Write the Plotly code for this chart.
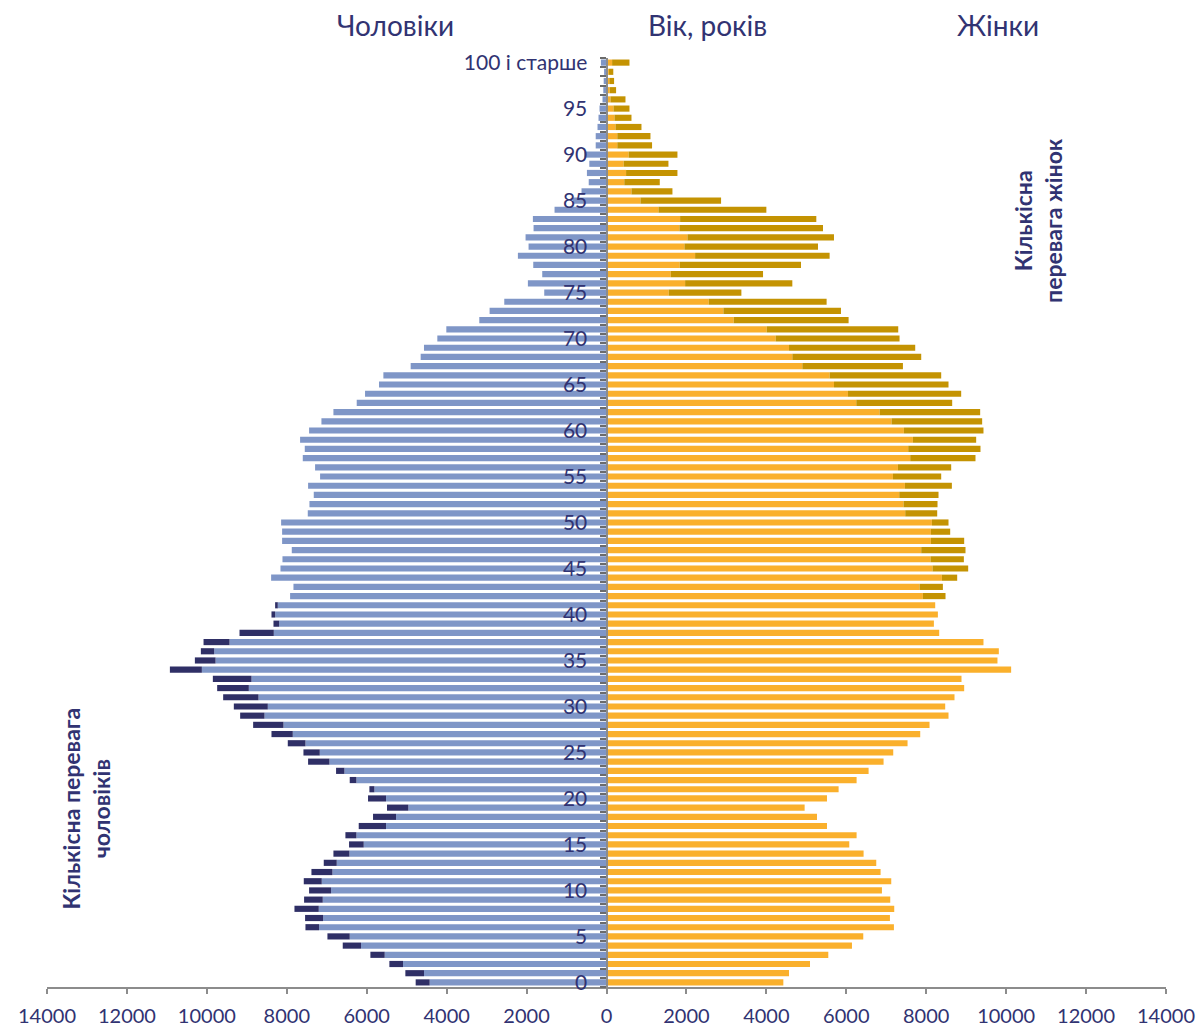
import plotly.graph_objects as go

ages = list(range(0, 101))

# Male totals by age (0..100)
male = [4775, 5033, 5433, 5908, 6600, 6983, 7533, 7542, 7808, 7567,
        7442, 7575, 7383, 7075, 6833, 6442, 6533, 6200, 5842, 5492,
        5967, 5933, 6425, 6767, 7467, 7583, 7975, 8383, 8842, 9167,
        9325, 9592, 9742, 9850, 10925, 10300, 10150, 10083, 9183, 8333,
        8383, 8292, 7917, 7833, 8392, 8158, 8108, 7875, 8117, 8117,
        8142, 7475, 7433, 7325, 7467, 7167, 7292, 7600, 7550, 7667,
        7442, 7133, 6833, 6250, 6042, 5692, 5583, 4900, 4650, 4567,
        4233, 4008, 3183, 2925, 2558, 1558, 1967, 1608, 1833, 2217,
        1950, 2025, 1825, 1842, 1300, 850, 625, 445, 490, 430,
        555, 270, 270, 225, 200, 175, 100, 80, 70, 60,
        140]

# Female totals by age (0..100)
female = [4425, 4567, 5092, 5550, 6142, 6425, 7192, 7092, 7200, 7100,
          6892, 7125, 6858, 6750, 6433, 6075, 6258, 5517, 5267, 4958,
          5517, 5808, 6258, 6558, 6933, 7175, 7533, 7850, 8083, 8558,
          8475, 8708, 8950, 8883, 10125, 9783, 9817, 9433, 8325, 8192,
          8292, 8225, 8483, 8417, 8775, 9050, 8942, 8983, 8950, 8600,
          8558, 8275, 8283, 8308, 8642, 8375, 8625, 9233, 9358, 9250,
          9433, 9400, 9350, 8650, 8875, 8558, 8375, 7417, 7875, 7725,
          7333, 7300, 6058, 5867, 5508, 3375, 4650, 3917, 4867, 5583,
          5292, 5692, 5417, 5250, 4000, 2867, 1650, 1333, 1775, 1550,
          1775, 1140, 1100, 875, 625, 575, 475, 240, 190, 170,
          575]

age_tick_vals = [0, 5, 10, 15, 20, 25, 30, 35, 40, 45, 50, 55, 60, 65, 70, 75, 80, 85, 90, 95, 100]
age_tick_text = ["0", "5", "10", "15", "20", "25", "30", "35", "40", "45", "50", "55",
                 "60", "65", "70", "75", "80", "85", "90", "95", "100 і старше"]
x_tick_vals = [-14000, -12000, -10000, -8000, -6000, -4000, -2000, 0,
               2000, 4000, 6000, 8000, 10000, 12000, 14000]
x_tick_text = ["14000", "12000", "10000", "8000", "6000", "4000", "2000", "0",
               "2000", "4000", "6000", "8000", "10000", "12000", "14000"]

common = [min(m, f) for m, f in zip(male, female)]
male_excess = [max(m - f, 0) for m, f in zip(male, female)]
female_excess = [max(f - m, 0) for m, f in zip(male, female)]

C_MALE = "#7F96C7"
C_MALE_EX = "#2F2F66"
C_FEM = "#FAB02C"
C_FEM_EX = "#C49302"
C_TEXT = "#313372"
FONT = "Lato"

fig = go.Figure()
fig.add_trace(go.Bar(y=ages, x=[-c for c in common], orientation="h",
                     marker=dict(color=C_MALE, line=dict(width=0)), name="Чоловіки"))
fig.add_trace(go.Bar(y=ages, x=[-e for e in male_excess], orientation="h",
                     marker=dict(color=C_MALE_EX, line=dict(width=0)), name="Перевага чоловіків"))
fig.add_trace(go.Bar(y=ages, x=common, orientation="h",
                     marker=dict(color=C_FEM, line=dict(width=0)), name="Жінки"))
fig.add_trace(go.Bar(y=ages, x=female_excess, orientation="h",
                     marker=dict(color=C_FEM_EX, line=dict(width=0)), name="Перевага жінок"))

fig.update_layout(
    width=1202, height=1028,
    margin=dict(l=47, r=36, t=58, b=41),
    plot_bgcolor="white", paper_bgcolor="white",
    barmode="relative", bargap=0.33, showlegend=False,
    font=dict(family=FONT, color=C_TEXT),
)

fig.update_xaxes(
    range=[-14000, 14000], tickvals=x_tick_vals, ticktext=x_tick_text,
    showgrid=False, zeroline=False, showline=True, linecolor="#8C8C8C", linewidth=1.5,
    ticks="outside", ticklen=5, tickcolor="#8C8C8C", tickwidth=1.5,
    ticklabelstandoff=5, automargin=False,
    tickfont=dict(family=FONT, size=20, color=C_TEXT),
)

fig.update_yaxes(
    range=[-0.5, 100.5], tickvals=age_tick_vals, ticktext=age_tick_text,
    anchor="free", position=0.5, side="left", automargin=False,
    showgrid=False, zeroline=False, showline=True, linecolor="#8C8C8C", linewidth=2,
    ticks="", ticklabelstandoff=14,
    tickfont=dict(family=FONT, size=21, color=C_TEXT),
    minor=dict(tickvals=[a + 0.5 for a in range(-1, 101)], ticks="outside",
               ticklen=6, tickcolor="#6B6B6B", tickwidth=1.5, showgrid=False),
)

anns = [
    dict(text="Чоловіки", x=-5275, y=1.035, size=28),
    dict(text="Вік, років", x=2525, y=1.035, size=28),
    dict(text="Жінки", x=9800, y=1.035, size=28),
]
for a in anns:
    fig.add_annotation(text=a["text"], x=a["x"], xref="x", y=a["y"], yref="paper",
                       showarrow=False, xanchor="center", yanchor="middle",
                       font=dict(family=FONT, size=a["size"], color=C_TEXT))

fig.add_annotation(text="<b>Кількісна<br>перевага жінок</b>", x=10800, xref="x",
                   y=82.8, yref="y", textangle=-90, showarrow=False, align="center",
                   font=dict(family=FONT, size=23, color=C_TEXT))
fig.add_annotation(text="<b>Кількісна перевага<br>чоловіків</b>", x=-13025, xref="x",
                   y=18.9, yref="y", textangle=-90, showarrow=False, align="center",
                   font=dict(family=FONT, size=23, color=C_TEXT))

fig.write_html("out.html", config={"displayModeBar": False},
               post_script="document.body.style.margin='0';document.body.style.overflow='hidden';")
